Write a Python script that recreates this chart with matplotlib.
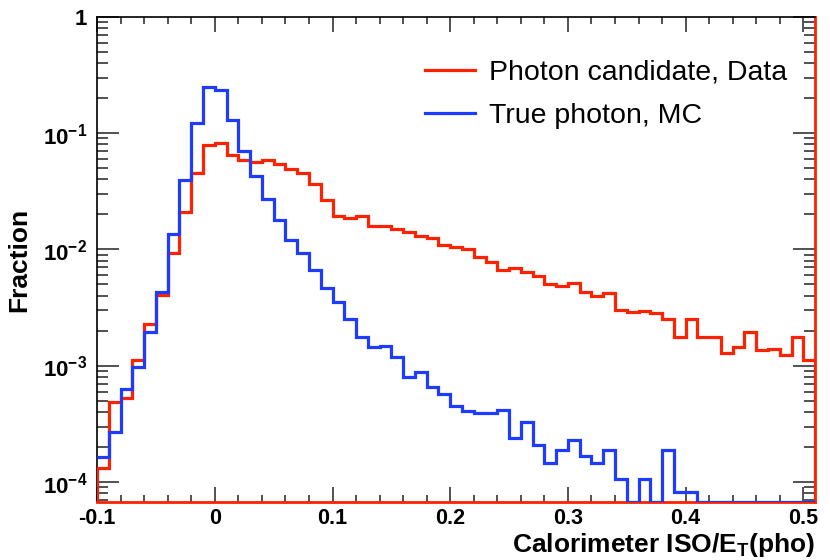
import matplotlib
matplotlib.use("Agg")
import matplotlib.pyplot as plt
import matplotlib.ticker as mticker
import numpy as np

# bin layout: 61 bins of 0.01 from -0.1 to 0.51
X_LO, X_HI, N_BINS = -0.1, 0.51, 61

# Photon candidate, Data (red)
data_frac = [
    1.33e-4, 4.92e-4, 5.30e-4, 1.12e-3, 2.29e-3, 4.06e-3, 9.39e-3, 2.09e-2, 4.51e-2, 7.98e-2,
    8.22e-2, 6.48e-2, 5.93e-2, 5.68e-2, 5.87e-2, 5.42e-2, 4.91e-2, 4.54e-2, 3.65e-2, 2.64e-2,
    1.95e-2, 1.85e-2, 1.95e-2, 1.59e-2, 1.59e-2, 1.51e-2, 1.41e-2, 1.31e-2, 1.26e-2, 1.09e-2,
    1.04e-2, 1.01e-2, 8.67e-3, 7.86e-3, 6.67e-3, 6.90e-3, 6.41e-3, 5.92e-3, 5.05e-3, 4.89e-3,
    5.19e-3, 4.29e-3, 4.01e-3, 4.26e-3, 3.02e-3, 2.89e-3, 2.96e-3, 2.85e-3, 2.51e-3, 1.78e-3,
    2.53e-3, 1.78e-3, 1.78e-3, 1.28e-3, 1.45e-3, 1.97e-3, 1.37e-3, 1.40e-3, 1.24e-3, 1.75e-3,
    1.12e-3,
]

# True photon, MC (blue)
mc_frac = [
    1.65e-4, 2.70e-4, 6.30e-4, 9.84e-4, 1.97e-3, 4.34e-3, 1.35e-2, 3.96e-2, 1.21e-1, 2.47e-1,
    2.35e-1, 1.30e-1, 7.06e-2, 4.28e-2, 2.74e-2, 1.78e-2, 1.20e-2, 9.28e-3, 6.67e-3, 4.64e-3,
    3.52e-3, 2.53e-3, 1.76e-3, 1.45e-3, 1.49e-3, 1.19e-3, 8.03e-4, 8.92e-4, 6.55e-4, 5.74e-4,
    4.55e-4, 4.12e-4, 3.92e-4, 3.92e-4, 4.18e-4, 2.39e-4, 3.30e-4, 2.10e-4, 1.46e-4, 1.89e-4,
    2.31e-4, 1.66e-4, 1.47e-4, 1.89e-4, 1.06e-4, 0.0, 1.06e-4, 0.0, 1.89e-4, 8.30e-5,
    8.30e-5, 0.0, 0.0, 0.0, 0.0, 0.0, 0.0, 0.0, 0.0, 0.0,
    0.0,
]

x_ticks = [-0.1, 0, 0.1, 0.2, 0.3, 0.4, 0.5]
x_tick_labels = ["-0.1", "0", "0.1", "0.2", "0.3", "0.4", "0.5"]
y_ticks = [1e-4, 1e-3, 1e-2, 1e-1, 1]
y_tick_labels = [r"$\mathbf{10^{-4}}$", r"$\mathbf{10^{-3}}$", r"$\mathbf{10^{-2}}$",
                 r"$\mathbf{10^{-1}}$", r"$\mathbf{1}$"]

Y_MIN, Y_MAX = 6.7e-5, 1.0
RED = "#ff2200"
BLUE = "#1e3cff"
BOLD_FONT = ["Liberation Sans", "DejaVu Sans"]

plt.rcParams["mathtext.fontset"] = "custom"
plt.rcParams["mathtext.bf"] = "Liberation Sans:bold"
plt.rcParams["mathtext.rm"] = "Liberation Sans:bold"

edges = np.linspace(X_LO, X_HI, N_BINS + 1)
# empty bins sit on the frame floor, like ROOT draws them
red_vals = np.clip(np.array(data_frac), Y_MIN, None)
blue_vals = np.clip(np.array(mc_frac), Y_MIN, None)

fig = plt.figure(figsize=(8.3, 5.6), dpi=100)
ax = fig.add_axes([0.117, 0.103, 0.865, 0.867])

ax.stairs(red_vals, edges, baseline=Y_MIN, color=RED, lw=2.3, label="Photon candidate, Data", zorder=3)
ax.stairs(blue_vals, edges, baseline=None, color=BLUE, lw=2.3, label="True photon, MC", zorder=4)

ax.set_yscale("log")
ax.set_xlim(X_LO, X_HI)
ax.set_ylim(Y_MIN, Y_MAX)

ax.set_xticks(x_ticks)
ax.set_xticklabels(x_tick_labels)
ax.xaxis.set_minor_locator(mticker.MultipleLocator(0.02))
ax.set_yticks(y_ticks)
ax.set_yticklabels(y_tick_labels)
ax.yaxis.set_minor_locator(mticker.LogLocator(base=10, subs=np.arange(2, 10)))
ax.yaxis.set_minor_formatter(mticker.NullFormatter())

ax.tick_params(which="both", direction="in", top=True, right=True, width=1.1, colors="#222")
ax.tick_params(axis="x", which="major", length=10.5, pad=4)
ax.tick_params(axis="x", which="minor", length=5)
ax.tick_params(axis="y", which="major", length=16, pad=7)
ax.tick_params(axis="y", which="minor", length=8)
for lbl in ax.get_xticklabels():
    lbl.set_fontfamily(BOLD_FONT)
    lbl.set_fontweight("bold")
    lbl.set_fontsize(15.5)
    lbl.set_color("black")
for lbl in ax.get_yticklabels():
    lbl.set_fontsize(16)
    lbl.set_color("black")

for s in ("left", "top"):
    ax.spines[s].set_linewidth(1.2)
    ax.spines[s].set_color("black")
for s in ("right", "bottom"):
    ax.spines[s].set_linewidth(2.0)
    ax.spines[s].set_color(RED)

ax.set_xlabel(r"Calorimeter ISO/E$_{\mathbf{T}}$(pho)", fontsize=19, fontweight="bold",
              family=BOLD_FONT, ha="right")
ax.xaxis.set_label_coords(1.0, -0.06)
ax.set_ylabel("Fraction", fontsize=19, fontweight="bold", family=BOLD_FONT)
ax.yaxis.set_label_coords(-0.092, 0.5)

ax.legend(loc="upper left", bbox_to_anchor=(0.457, 0.912), frameon=False,
          borderpad=0, borderaxespad=0, handlelength=1.75, handletextpad=0.5,
          labelspacing=0.6, prop={"family": ["Liberation Sans", "DejaVu Sans"], "size": 20.5})

fig.savefig("out.png", dpi=100)
